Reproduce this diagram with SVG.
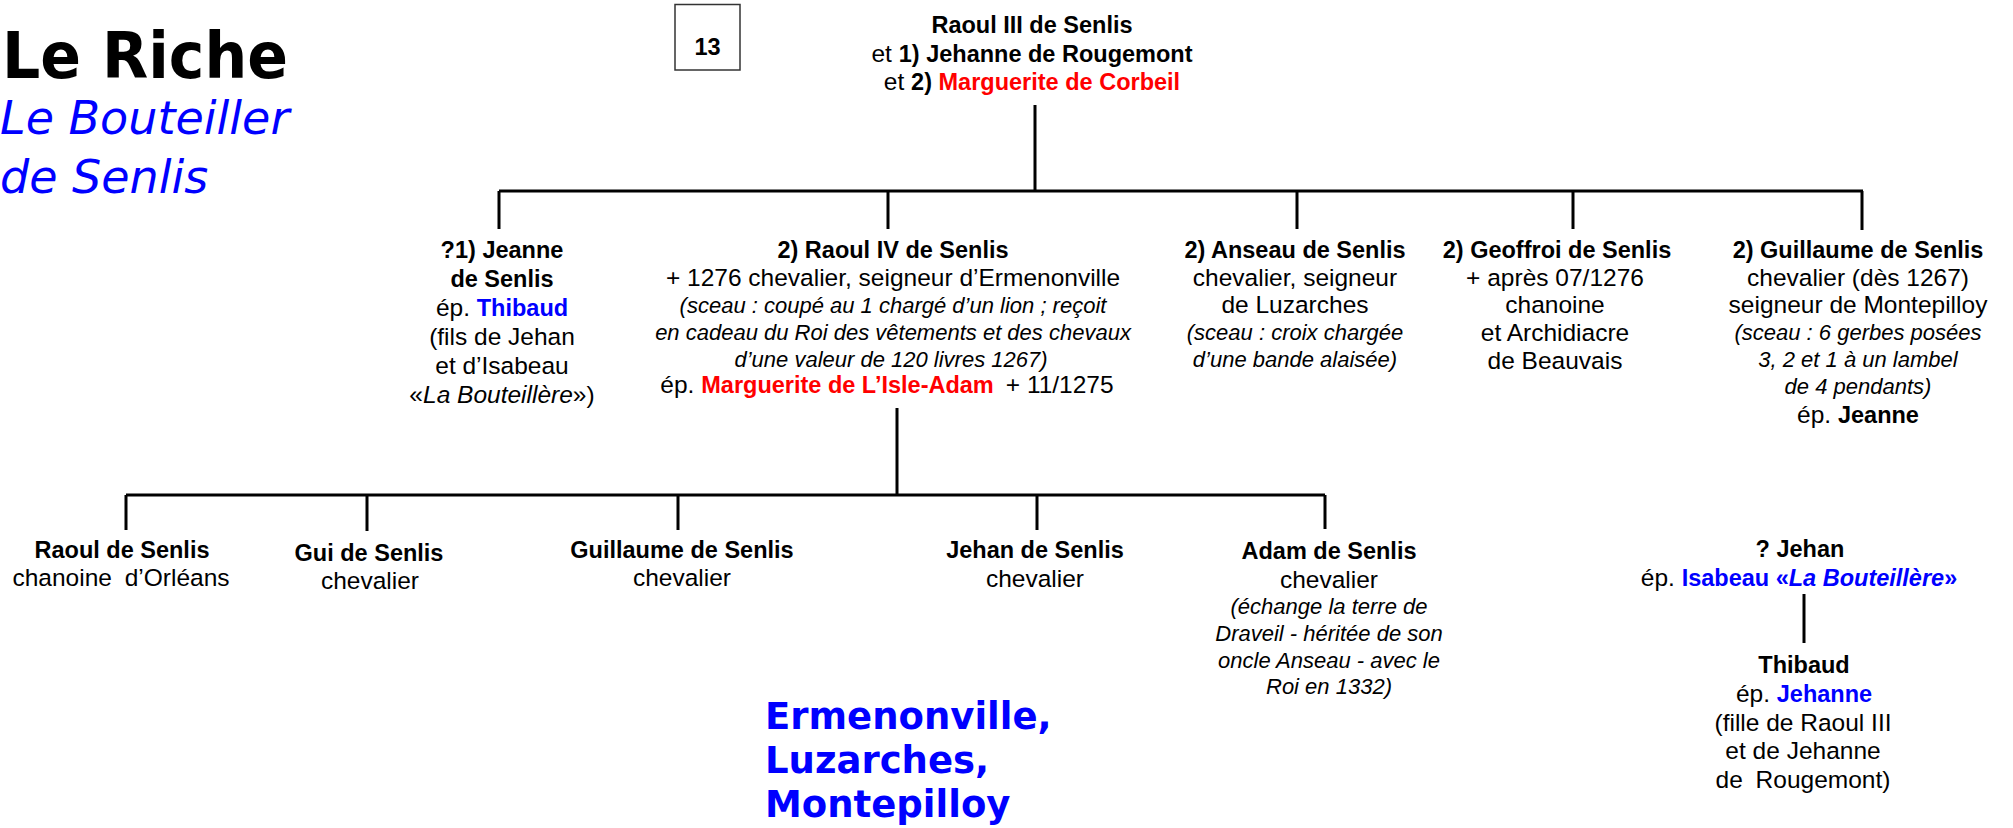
<svg xmlns="http://www.w3.org/2000/svg" width="2013" height="828" viewBox="0 0 2013 828">
<style>
.t{font-family:"Liberation Sans",Arial,sans-serif;font-size:24.5px;fill:#000;text-anchor:middle}
.b{font-weight:bold;font-size:23.5px}
.i{font-style:italic;font-size:22px}
.red{fill:#FF0000}
.blue{fill:#0000FF}
.ttl{font-family:"DejaVu Sans",Verdana,sans-serif}
.ln{stroke:#000;stroke-width:3;fill:none}
</style>
<rect width="2013" height="828" fill="#fff"/>
<g id="title">
<text class="ttl" x="2" y="78" font-size="64" font-weight="bold" textLength="286" lengthAdjust="spacingAndGlyphs">Le Riche</text>
<text class="ttl blue" x="0" y="134" font-size="46" font-style="italic">Le Bouteiller</text>
<text class="ttl blue" x="0" y="193" font-size="46" font-style="italic">de Senlis</text>
</g>
<g id="box13">
<rect x="675" y="4.5" width="65" height="65.5" fill="#fff" stroke="#333" stroke-width="1.5"/>
<text class="t b" x="707.5" y="55" font-size="29">13</text>
</g>
<g id="connectors">
<path class="ln" d="M1035 105V191M499 191H1863M499 191V229M888 191V229M1297 191V229M1573 191V229M1862 191V230"/>
<path class="ln" d="M897 408V495M126 495H1325M126 495V530M367 495V531M678 495V530M1037 495V530M1325 495V529"/>
<path class="ln" d="M1804 594V643"/>
</g>
<g id="n-raoul3">
<text class="t b" x="1032" y="33">Raoul III de Senlis</text>
<text class="t" x="1032" y="62">et <tspan class="b">1) Jehanne de Rougemont</tspan></text>
<text class="t" x="1032" y="90">et <tspan class="b">2) </tspan><tspan class="b red">Marguerite de Corbeil</tspan></text>
</g>
<g id="n-jeanne">
<text class="t b" x="502" y="258">?1) Jeanne</text>
<text class="t b" x="502" y="287">de Senlis</text>
<text class="t" x="502" y="316">ép. <tspan class="b blue">Thibaud</tspan></text>
<text class="t" x="502" y="345">(fils de Jehan</text>
<text class="t" x="502" y="374">et d’Isabeau</text>
<text class="t" x="502" y="403">«<tspan font-style="italic">La Bouteillère</tspan>»)</text>
</g>
<g id="n-raoul4">
<text class="t b" x="893" y="258">2) Raoul IV de Senlis</text>
<text class="t" x="893" y="286">+ 1276 chevalier, seigneur d’Ermenonville</text>
<text class="t i" x="893" y="313">(sceau : coupé au 1 chargé d’un lion ; reçoit</text>
<text class="t i" x="893" y="340">en cadeau du Roi des vêtements et des chevaux</text>
<text class="t i" x="891" y="367">d’une valeur de 120 livres 1267)</text>
<text class="t" x="887" y="393">ép. <tspan class="b red">Marguerite de L’Isle-Adam</tspan><tspan dx="12">+ 11/1275</tspan></text>
</g>
<g id="n-anseau">
<text class="t b" x="1295" y="258">2) Anseau de Senlis</text>
<text class="t" x="1295" y="286">chevalier, seigneur</text>
<text class="t" x="1295" y="313">de Luzarches</text>
<text class="t i" x="1295" y="340">(sceau : croix chargée</text>
<text class="t i" x="1295" y="367">d’une bande alaisée)</text>
</g>
<g id="n-geoffroi">
<text class="t b" x="1557" y="258">2) Geoffroi de Senlis</text>
<text class="t" x="1555" y="286">+ après 07/1276</text>
<text class="t" x="1555" y="313">chanoine</text>
<text class="t" x="1555" y="341">et Archidiacre</text>
<text class="t" x="1555" y="369">de Beauvais</text>
</g>
<g id="n-guillaume">
<text class="t b" x="1858" y="258">2) Guillaume de Senlis</text>
<text class="t" x="1858" y="286">chevalier (dès 1267)</text>
<text class="t" x="1858" y="313">seigneur de Montepilloy</text>
<text class="t i" x="1858" y="340">(sceau : 6 gerbes posées</text>
<text class="t i" x="1858" y="367">3, 2 et 1 à un lambel</text>
<text class="t i" x="1858" y="394">de 4 pendants)</text>
<text class="t" x="1858" y="423">ép. <tspan class="b">Jeanne</tspan></text>
</g>
<g id="n-raoul">
<text class="t b" x="122" y="558">Raoul de Senlis</text>
<text class="t" x="121" y="586">chanoine <tspan dx="6">d’Orléans</tspan></text>
</g>
<g id="n-gui">
<text class="t b" x="369" y="561">Gui de Senlis</text>
<text class="t" x="370" y="589">chevalier</text>
</g>
<g id="n-guillaume2">
<text class="t b" x="682" y="558">Guillaume de Senlis</text>
<text class="t" x="682" y="586">chevalier</text>
</g>
<g id="n-jehan">
<text class="t b" x="1035" y="558">Jehan de Senlis</text>
<text class="t" x="1035" y="587">chevalier</text>
</g>
<g id="n-adam">
<text class="t b" x="1329" y="559">Adam de Senlis</text>
<text class="t" x="1329" y="588">chevalier</text>
<text class="t i" x="1329" y="614">(échange la terre de</text>
<text class="t i" x="1329" y="641">Draveil - héritée de son</text>
<text class="t i" x="1329" y="668">oncle Anseau - avec le</text>
<text class="t i" x="1329" y="694">Roi en 1332)</text>
</g>
<g id="n-jehan2">
<text class="t b" x="1800" y="557">? Jehan</text>
<text class="t" x="1799" y="586">ép. <tspan class="b blue">Isabeau «<tspan font-style="italic">La Bouteillère</tspan>»</tspan></text>
</g>
<g id="n-thibaud">
<text class="t b" x="1804" y="673">Thibaud</text>
<text class="t" x="1804" y="702">ép. <tspan class="b blue">Jehanne</tspan></text>
<text class="t" x="1803" y="731">(fille de Raoul III</text>
<text class="t" x="1803" y="759">et de Jehanne</text>
<text class="t" x="1803" y="788">de <tspan dx="6">Rougemont)</tspan></text>
</g>
<g id="places">
<text class="ttl blue" x="765" y="729" font-size="37" font-weight="bold">Ermenonville,</text>
<text class="ttl blue" x="765" y="773" font-size="37" font-weight="bold">Luzarches,</text>
<text class="ttl blue" x="765" y="817" font-size="37" font-weight="bold">Montepilloy</text>
</g>
</svg>
